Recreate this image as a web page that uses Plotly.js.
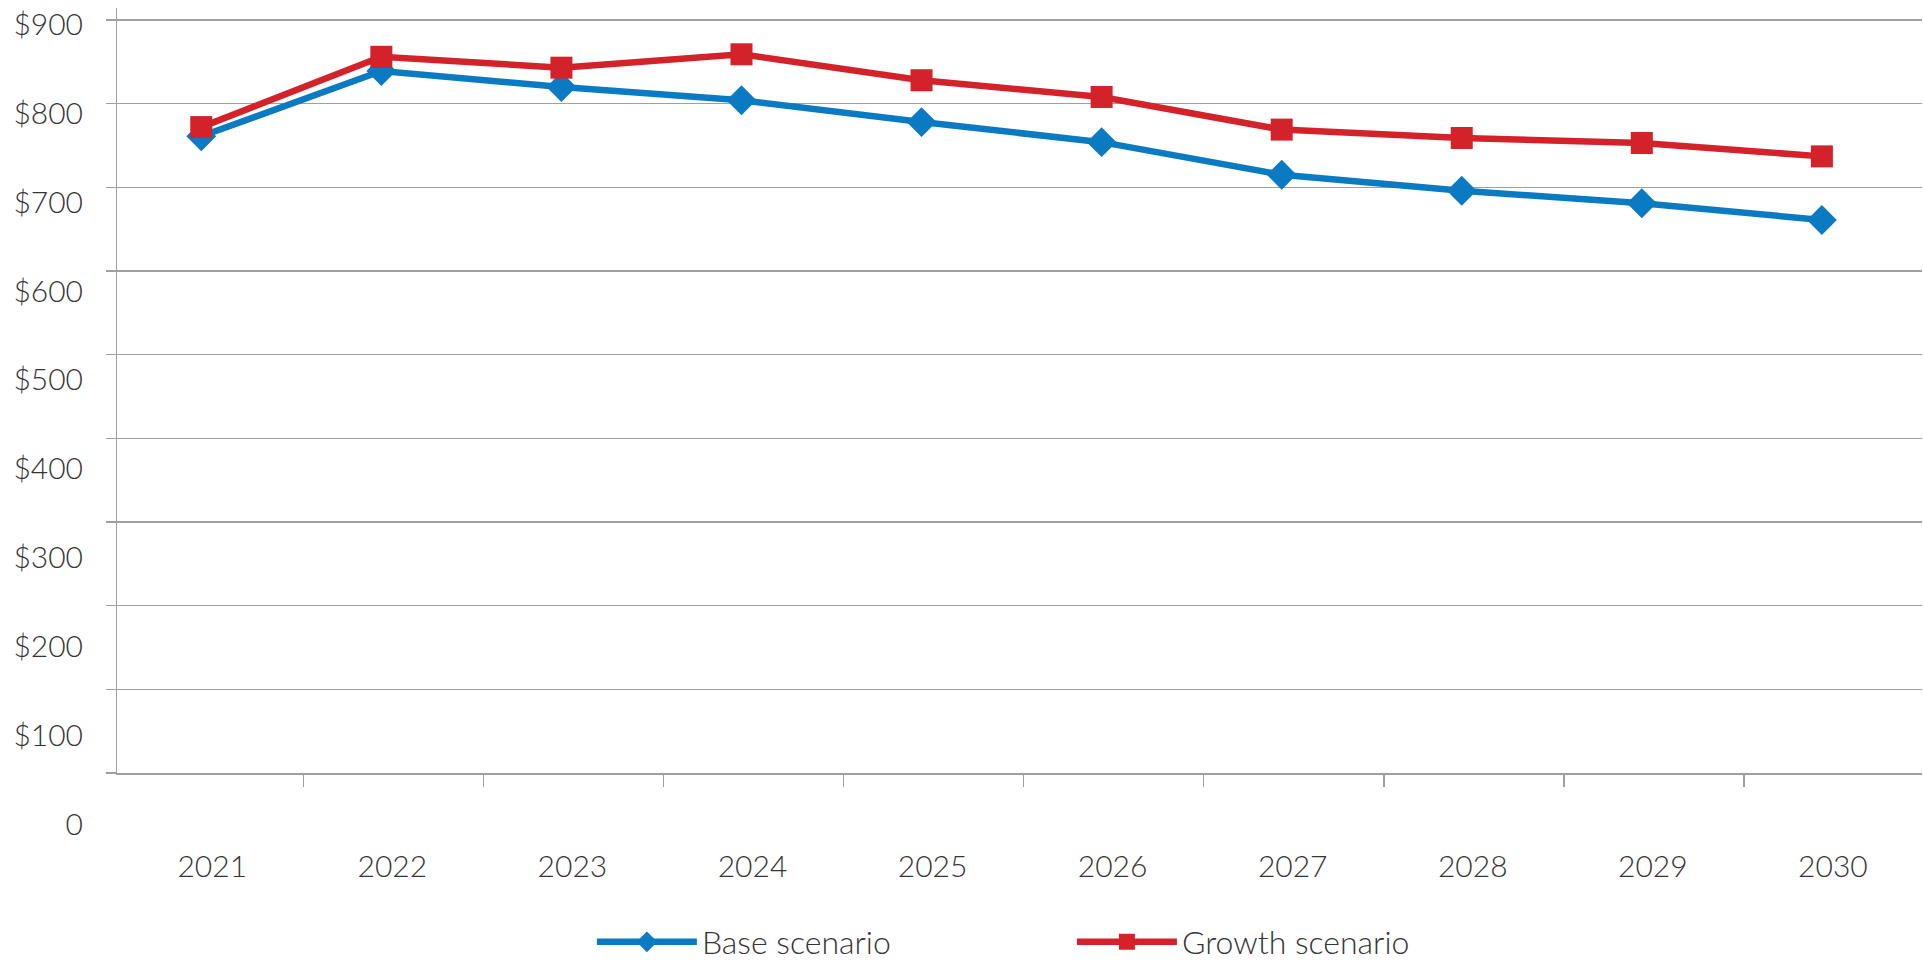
<!DOCTYPE html>
<html>
<head>
<meta charset="utf-8">
<script src="https://cdn.plot.ly/plotly-3.0.1.min.js"></script>
<style>
  html, body { margin: 0; padding: 0; background: #ffffff; }
  #chart { width: 1923px; height: 963px; }
</style>
</head>
<body>
<div id="chart"></div>
<script>
// Years on the horizontal axis
const years = [2021, 2022, 2023, 2024, 2025, 2026, 2027, 2028, 2029, 2030];

// Series values (dollars)
const baseScenario   = [761, 839, 820, 804, 778, 754, 715, 696, 681, 661];
const growthScenario = [772, 856, 843, 859, 828, 808, 769, 759, 753, 737];

// Value-axis gridlines and their labels
const yTickValues = [0, 100, 200, 300, 400, 500, 600, 700, 800, 900];
const yTickLabels = ['0', '$100', '$200', '$300', '$400', '$500', '$600', '$700', '$800', '$900'];

const seriesNames  = ['Base scenario', 'Growth scenario'];
const seriesColors = ['#0a7bc2', '#d3222a'];

const FONT = { family: 'Lato, "Open Sans", sans-serif', size: 30, color: '#353535', weight: 300 };
const LEGEND_FONT = Object.assign({}, FONT, { size: 32 });
const GRID = '#a0a0a0';

// Category separators sit between consecutive years
const yearSeparators = years.slice(0, -1).map(y => y + 0.567);

const traces = [
  {
    type: 'scatter', mode: 'lines+markers', name: seriesNames[0],
    x: years, y: baseScenario, xaxis: 'x', yaxis: 'y',
    line: { color: seriesColors[0], width: 6.5 },
    marker: { symbol: 'diamond', size: 23, color: seriesColors[0] },
    cliponaxis: false
  },
  {
    type: 'scatter', mode: 'lines+markers', name: seriesNames[1],
    x: years, y: growthScenario, xaxis: 'x', yaxis: 'y',
    line: { color: seriesColors[1], width: 6.5 },
    marker: { symbol: 'square', size: 22, color: seriesColors[1] },
    cliponaxis: false
  },
  // carries the dollar-label axis so it gets drawn
  {
    type: 'scatter', mode: 'markers', x: [], y: [],
    xaxis: 'x', yaxis: 'y2', showlegend: false, hoverinfo: 'skip'
  }
];

const layout = {
  width: 1923, height: 963,
  margin: { l: 117, r: 1, t: 8, b: 123, autoexpand: false },
  paper_bgcolor: '#ffffff',
  plot_bgcolor: 'rgba(0,0,0,0)',
  font: FONT,
  showlegend: true,
  xaxis: {
    type: 'linear',
    domain: [0, 1],
    anchor: 'y',
    range: [2020.532, 2030.556],
    tickmode: 'array',
    tickvals: years,
    ticktext: years.map(String),
    ticks: '',
    ticklabelshift: 11,
    ticklabelstandoff: 66,
    tickfont: FONT,
    showgrid: false,
    zeroline: false,
    showline: true,
    linecolor: GRID,
    linewidth: 1.5,
    minor: {
      tickmode: 'array',
      tickvals: yearSeparators,
      ticks: 'outside', ticklen: 12, tickwidth: 1.5, tickcolor: GRID,
      showgrid: false
    }
  },
  yaxis: {
    domain: [0.0805, 1],
    anchor: 'x',
    range: [0, 914.34],
    tickmode: 'array',
    tickvals: yTickValues,
    showticklabels: false,
    ticks: 'outside', ticklen: 10, tickwidth: 1.5, tickcolor: GRID,
    showgrid: true, gridcolor: GRID, gridwidth: 1.5,
    zeroline: false,
    showline: true, linecolor: GRID, linewidth: 1.5
  },
  yaxis2: {
    domain: [0, 1],
    anchor: 'free',
    position: 0,
    range: [-18.0, 918.57],
    tickmode: 'array',
    tickvals: yTickValues,
    ticktext: yTickLabels,
    ticks: '',
    ticklabelstandoff: 34,
    tickfont: FONT,
    showgrid: false, zeroline: false, showline: false
  },
  legend: {
    orientation: 'h',
    xref: 'container', yref: 'container',
    x: 0.3078, xanchor: 'left',
    y: 0.0218, yanchor: 'middle',
    font: LEGEND_FONT,
    itemwidth: 100,
    entrywidth: 365, entrywidthmode: 'pixels',
    bgcolor: 'rgba(0,0,0,0)',
    borderwidth: 0
  }
};

Plotly.newPlot('chart', traces, layout, { staticPlot: true, displayModeBar: false });
</script>
</body>
</html>
